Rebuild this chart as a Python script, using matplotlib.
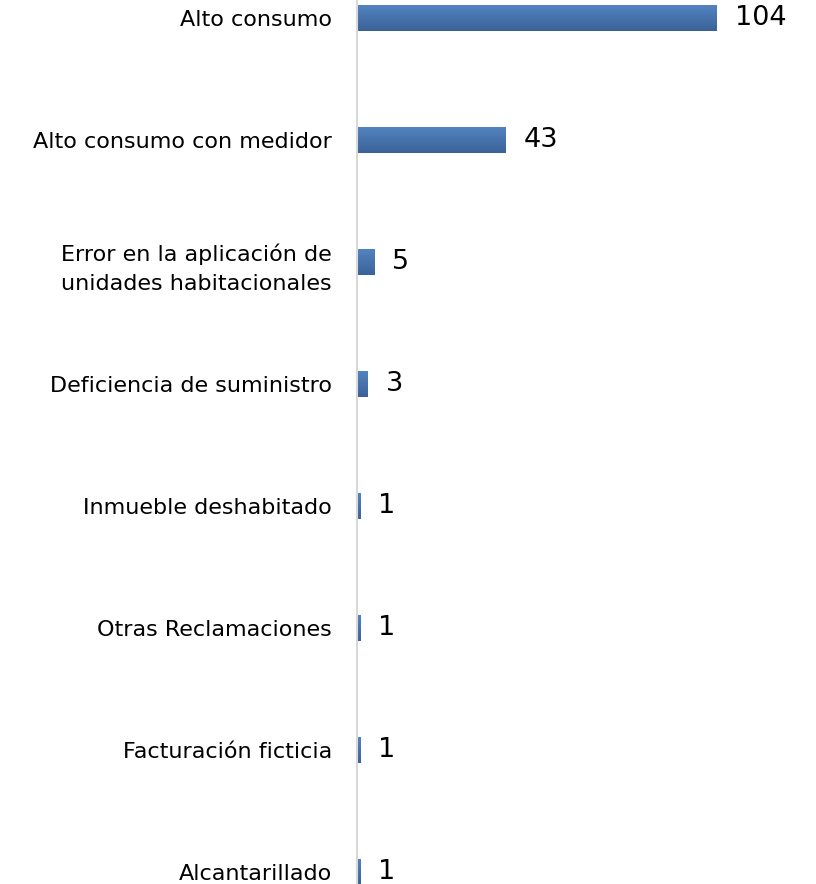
import matplotlib
matplotlib.use("Agg")
import matplotlib.pyplot as plt
import numpy as np
from matplotlib.colors import LinearSegmentedColormap

categories = [
    "Alto consumo",
    "Alto consumo con medidor",
    "Error en la aplicación de\nunidades habitacionales",
    "Deficiencia de suministro",
    "Inmueble deshabitado",
    "Otras Reclamaciones",
    "Facturación ficticia",
    "Alcantarillado",
]
values = [104, 43, 5, 3, 1, 1, 1, 1]

plt.rcParams["font.family"] = ["DejaVu Sans"]

fig = plt.figure(figsize=(8.16, 8.84), dpi=100)
ax = fig.add_axes([357 / 816, 0, 459 / 816, 1])

ypos = np.arange(len(categories))
bars = ax.barh(ypos, values, height=0.21, color="#4a78b4", edgecolor="none")

# vertical gradient on each bar, lighter on top, darker at the bottom
grad = LinearSegmentedColormap.from_list("g", ["#5283c0", "#3b6298"])
g = np.linspace(0, 1, 64).reshape(-1, 1)
for b in bars:
    x0, y0 = b.get_x(), b.get_y()
    w, h = b.get_width(), b.get_height()
    im = ax.imshow(g, cmap=grad, aspect="auto", extent=(x0, x0 + w, y0 + h, y0),
                   zorder=3, interpolation="bilinear")
    im.set_clip_path(b)

ax.set_xlim(0, 459 / 3.4615)
ax.set_ylim(7 + 12 / 122, -18 / 122)

for y, v in zip(ypos, values):
    ax.annotate(str(v), (v, y), xytext=(18, 0), textcoords="offset pixels",
                va="center", ha="left", fontsize=19.5, color="black")

ax.set_yticks(ypos)
ax.set_yticklabels(categories, fontsize=16, linespacing=1.55)
ax.tick_params(axis="y", length=0, pad=18)
ax.set_xticks([])
for s in ["top", "right", "bottom"]:
    ax.spines[s].set_visible(False)
ax.spines["left"].set_color("#d9d9d9")
ax.spines["left"].set_linewidth(1.5)
ax.spines["left"].set_zorder(5)

fig.savefig("out.png", dpi=100)
